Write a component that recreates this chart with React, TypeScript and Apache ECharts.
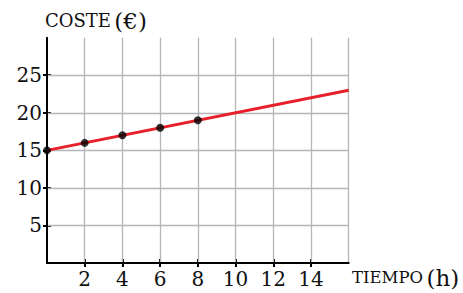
import React, { useEffect, useRef } from "react";
import * as echarts from "echarts";

const pointX = [0, 2, 4, 6, 8];
const pointY = [15, 16, 17, 18, 19];
const lineX = [0, 16];
const lineY = [15, 23];
const xTicks = [2, 4, 6, 8, 10, 12, 14];
const yTicks = [5, 10, 15, 20, 25];
const yTitleMain = "COSTE";
const yTitleUnit = "(€)";
const xTitleMain = "TIEMPO";
const xTitleUnit = "(h)";

const FONT = "DejaVu Serif";

export default function App() {
  const ref = useRef<HTMLDivElement>(null);
  useEffect(() => {
    document.body.style.margin = "0";
    const chart = echarts.init(ref.current!, null, { renderer: "svg" });
    const gridColor = "#b5b5b5";
    const tickStyle = { color: "#000", width: 2 };
    const xBase = { type: "value" as const, min: 0, max: 16, interval: 2, position: "bottom" as const };
    const yBase = { type: "value" as const, min: 0, max: 30, interval: 5, position: "left" as const };
    const tickAxis = (base: any, ticks: number[], inside: boolean) => ({
      ...base,
      axisLine: { show: false },
      axisTick: { show: true, inside, length: 4, customValues: ticks, lineStyle: tickStyle },
      axisLabel: { show: false },
      splitLine: { show: false },
    });
    chart.setOption({
      animation: false,
      backgroundColor: "#ffffff",
      grid: { left: 47, right: 114.3, top: 37.7, bottom: 30 },
      xAxis: [
        {
          ...xBase,
          axisLine: { show: true, onZero: false, lineStyle: { color: "#000", width: 2 } },
          axisTick: { show: false },
          axisLabel: {
            show: true,
            margin: 6,
            color: "#111",
            fontFamily: FONT,
            fontSize: 20,
            formatter: (v: number) => (xTicks.includes(v) ? String(v) : ""),
          },
          splitLine: { show: true, showMinLine: false, lineStyle: { color: gridColor, width: 1.3 } },
          z: 2,
        },
        tickAxis(xBase, xTicks, false),
        tickAxis(xBase, xTicks, true),
      ],
      yAxis: [
        {
          ...yBase,
          axisLine: { show: true, onZero: false, lineStyle: { color: "#000", width: 2 } },
          axisTick: { show: false },
          axisLabel: {
            show: true,
            margin: 5,
            color: "#111",
            fontFamily: FONT,
            fontSize: 20,
            formatter: (v: number) => (yTicks.includes(v) ? String(v) : ""),
          },
          splitLine: { show: true, showMinLine: false, showMaxLine: false, lineStyle: { color: gridColor, width: 1.3 } },
          z: 2,
        },
        tickAxis(yBase, yTicks, false),
        tickAxis(yBase, yTicks, true),
      ],
      series: [
        {
          type: "line",
          xAxisIndex: 0,
          yAxisIndex: 0,
          data: lineX.map((x, i) => [x, lineY[i]]),
          showSymbol: false,
          lineStyle: { color: "#e8202a", width: 3 },
          z: 3,
        },
        {
          type: "scatter",
          xAxisIndex: 0,
          yAxisIndex: 0,
          data: pointX.map((x, i) => [x, pointY[i]]),
          symbol: "circle",
          symbolSize: 8,
          itemStyle: { color: "#000" },
          z: 4,
        },
      ],
      graphic: [
        {
          type: "text",
          left: 45,
          top: 9,
          style: {
            text: `{a|${yTitleMain}} {b|${yTitleUnit}}`,
            rich: {
              a: { fontFamily: FONT, fontSize: 18, fill: "#111" },
              b: { fontFamily: FONT, fontSize: 23, fill: "#111" },
            },
          },
        },
        {
          type: "text",
          left: 352,
          top: 266,
          style: {
            text: `{a|${xTitleMain}} {b|${xTitleUnit}}`,
            rich: {
              a: { fontFamily: FONT, fontSize: 16.5, fill: "#111" },
              b: { fontFamily: FONT, fontSize: 23, fill: "#111" },
            },
          },
        },
      ],
    });
    return () => chart.dispose();
  }, []);
  return <div ref={ref} style={{ width: 463, height: 293 }} />;
}
